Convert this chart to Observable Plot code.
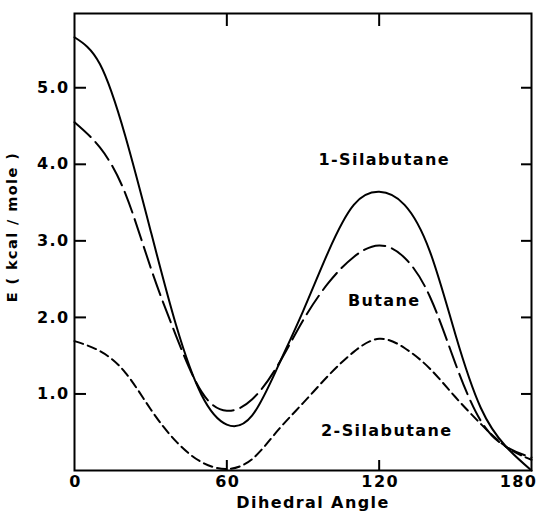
<!DOCTYPE html>
<html>
<head>
<meta charset="utf-8">
<script src="https://cdn.jsdelivr.net/npm/d3@7"></script>
<script src="https://cdn.jsdelivr.net/npm/@observablehq/plot@0.6"></script>
<style>
  html, body { margin: 0; padding: 0; background: #fff; }
  svg { display: block; }
  #chart svg text { letter-spacing: 1.4px; }
</style>
</head>
<body>
<div id="chart"></div>
<script>
// Dihedral angle (degrees)
const angles = [0, 10, 20, 30, 40, 50, 60, 70, 80, 90, 100, 110, 120, 130, 140, 150, 160, 170, 180];
// E (kcal/mole)
const silabutane1 = [5.66, 5.31, 4.37, 3.13, 1.90, 0.99, 0.60, 0.72, 1.35, 2.08, 2.86, 3.47, 3.64, 3.47, 2.86, 1.78, 0.82, 0.31, 0.00];
const butane      = [4.55, 4.22, 3.62, 2.65, 1.76, 1.03, 0.78, 0.93, 1.37, 1.96, 2.45, 2.79, 2.94, 2.78, 2.27, 1.40, 0.65, 0.31, 0.17];
const silabutane2 = [1.69, 1.56, 1.28, 0.80, 0.38, 0.11, 0.02, 0.15, 0.52, 0.88, 1.24, 1.55, 1.72, 1.60, 1.33, 0.96, 0.61, 0.31, 0.14];

const seriesNames = ["1-Silabutane", "Butane", "2-Silabutane"];
const seriesDash = ["none", "22,7", "9,5"];
const labelX = [122, 122, 123];
const labelY = [4.06, 2.22, 0.52];

const xTicks = [0, 60, 120];
const xLastTick = [180];
const xInnerTicks = [60, 120];
const yTicks = [1, 2, 3, 4, 5];
const xLabel = "Dihedral Angle";
const yLabel = "E ( kcal / mole )";

const seriesValues = [silabutane1, butane, silabutane2];
const rows = seriesNames.flatMap((name, s) =>
  angles.map((a, i) => ({series: name, angle: a, energy: seriesValues[s][i]}))
);
const labels = seriesNames.map((name, s) => ({name, x: labelX[s], y: labelY[s]}));

const font = "'DejaVu Sans', sans-serif";

const chart = Plot.plot({
  width: 540,
  height: 512,
  marginLeft: 74,
  marginRight: 9,
  marginTop: 13,
  marginBottom: 42,
  style: {fontFamily: font, fontWeight: "bold", color: "#000", background: "#fff"},
  x: {domain: [0, 180]},
  y: {domain: [0, 5.97]},
  marks: [
    // curves
    ...seriesNames.map((name, s) =>
      Plot.line(rows.filter(d => d.series === name), {
        x: "angle", y: "energy", curve: "natural",
        stroke: "#000", strokeWidth: 2, strokeDasharray: seriesDash[s]
      })
    ),
    // inward ticks
    Plot.axisX(xInnerTicks, {anchor: "bottom", tickSize: -10, fill: "none", label: null, strokeWidth: 2}),
    Plot.axisX(xInnerTicks, {anchor: "top", tickSize: -12, fill: "none", label: null, strokeWidth: 2}),
    Plot.axisY(yTicks, {anchor: "left", tickSize: -12, fill: "none", label: null, strokeWidth: 2}),
    Plot.axisY(yTicks, {anchor: "right", tickSize: -11, fill: "none", label: null, strokeWidth: 2}),
    // tick labels
    Plot.axisX(xTicks, {anchor: "bottom", tickSize: 0, tickPadding: 5, fontSize: 16, label: null, dx: 1, tickFormat: d => String(d)}),
    Plot.axisX(xLastTick, {anchor: "bottom", tickSize: 0, tickPadding: 5, fontSize: 16, label: null, dx: -13, tickFormat: d => String(d)}),
    Plot.axisY(yTicks, {anchor: "left", tickSize: 0, tickPadding: 5, fontSize: 16, label: null, tickFormat: d => d.toFixed(1)}),
    Plot.frame({stroke: "#000", strokeWidth: 2}),
    // axis titles
    Plot.text([xLabel], {frameAnchor: "bottom", text: d => d, dy: 37, dx: 10, fontSize: 16, fontWeight: "bold"}),
    Plot.text([yLabel], {frameAnchor: "left", textAnchor: "middle", text: d => d, rotate: -90, dx: -62, dy: -15, fontSize: 14.5, fontWeight: "bold"}),
    // curve labels
    Plot.text(labels, {x: "x", y: "y", text: "name", fontSize: 16, fontWeight: "bold"})
  ]
});
document.getElementById("chart").appendChild(chart);
</script>
</body>
</html>
